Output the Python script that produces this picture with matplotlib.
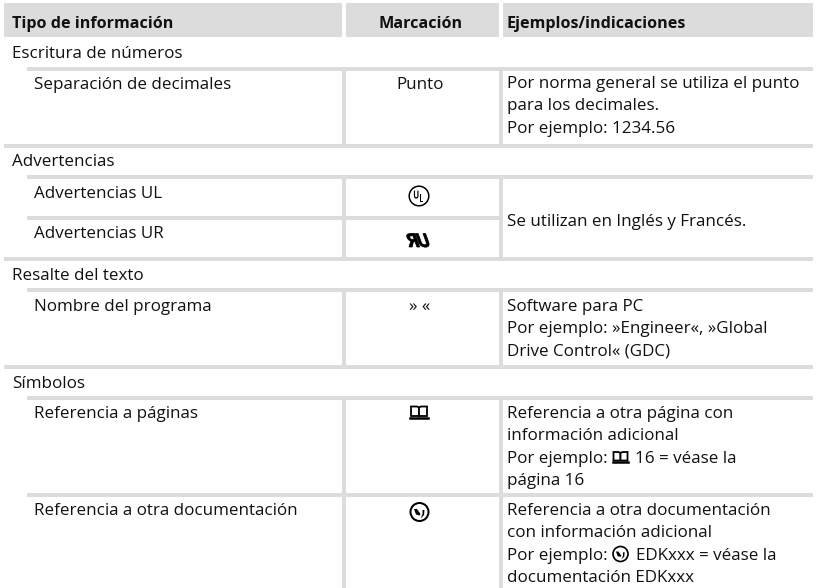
import matplotlib
matplotlib.use("Agg")
import matplotlib.pyplot as plt
from matplotlib.patches import Rectangle, Circle, Polygon, PathPatch
from matplotlib.textpath import TextPath
from matplotlib.font_manager import FontProperties
from matplotlib.transforms import Affine2D

FONT = "Open Sans"
SIZE = 12.25
HEAD = 11.65
GREY = "#dcdcdc"
INK = "#111111"

headers = ["Tipo de información", "Marcación", "Ejemplos/indicaciones"]
sections = ["Escritura de números", "Advertencias", "Resalte del texto", "Símbolos"]
section_base = [58, 166, 280, 388]
rows = ["Separación de decimales", "Advertencias UL", "Advertencias UR",
        "Nombre del programa", "Referencia a páginas", "Referencia a otra documentación"]
row_base = [89, 198, 238, 311, 418, 515]
marks = ["Punto", "", "", "» «", "", ""]
notes = [
    (["Por norma general se utiliza el punto", "para los decimales.", "Por ejemplo: 1234.56"], 88),
    (["Se utilizan en Inglés y Francés."], 226),
    (["Software para PC", "Por ejemplo: »Engineer«, »Global", "Drive Control« (GDC)"], 311),
    (["Referencia a otra página con", "información adicional", "Por ejemplo:", "página 16"], 418),
    (["Referencia a otra documentación", "con información adicional", "Por ejemplo:", "documentación EDKxxx"], 515),
]
inline = [("16 = véase la", 635, 462.6), ("EDKxxx = véase la", 636, 559.6)]

h_rules = [(67, 27, 813), (144, 4, 813), (175, 27, 813), (216, 27, 499), (257, 4, 813),
           (288, 27, 813), (365, 4, 813), (396, 27, 813), (493, 27, 813)]
v_spans = [(67, 144), (175, 257), (288, 365), (396, 588)]
v_cols = [342, 499]

fig = plt.figure(figsize=(8.17, 5.88), dpi=100)
ax = fig.add_axes([0, 0, 1, 1])
ax.set_xlim(0, 817)
ax.set_ylim(588, 0)
ax.axis("off")

def rect(x0, y0, x1, y1, color=GREY):
    ax.add_patch(Rectangle((x0, y0), x1 - x0, y1 - y0, fc=color, ec="none"))

def txt(x, y, s, ha="left", weight="normal", size=SIZE):
    ax.text(x, y, s, ha=ha, va="baseline", family=FONT, fontsize=size, color=INK, fontweight=weight)

for x0, x1 in [(4, 342), (346, 499), (503, 813)]:
    rect(x0, 3, x1, 37)
for y, x0, x1 in h_rules:
    rect(x0, y, x1, y + 4)
for y0, y1 in v_spans:
    for x in v_cols:
        rect(x, y0, x + 4, y1)

txt(12, 28, headers[0], weight="bold", size=HEAD)
txt(421, 28, headers[1], ha="center", weight="bold", size=HEAD)
txt(507, 28, headers[2], weight="bold", size=HEAD)

for s, b in zip(sections, section_base):
    txt(12, b, s)
for s, b in zip(rows, row_base):
    txt(34, b, s)
for s, b in zip(marks, row_base):
    if s:
        txt(420, b, s, ha="center")
for lines, b in notes:
    for i, s in enumerate(lines):
        txt(507, b + i * 22.3, s)
for s, x, y in inline:
    txt(x, y, s)

def letters(s, x, y, size, sx=1.0, weight="bold"):
    fp = FontProperties(family=FONT, weight=weight)
    tp = TextPath((0, 0), s, size=size, prop=fp)
    tr = Affine2D().scale(sx, -1).translate(x, y) + ax.transData
    ax.add_patch(PathPatch(tp, fc="black", ec="none", transform=tr))

def book(cx, cy, w=8, h=5.5):
    for sx in (-1, 1):
        ax.add_patch(Polygon([(cx, cy - h + 1), (cx + sx * 2, cy - h), (cx + sx * w, cy - h),
                              (cx + sx * w, cy + h - 1.5), (cx, cy + h - 1.5)], closed=True,
                             fc="white", ec="black", lw=1.3))
    ax.plot([cx - w - 0.8, cx + w + 0.8], [cy + h, cy + h], color="black", lw=1.8)

def globe(cx, cy, r):
    ax.add_patch(Circle((cx, cy), r, fc="white", ec="black", lw=1.3 * r / 8))
    k = r / 9
    ax.add_patch(Polygon([(cx - 5.5 * k, cy - 3 * k), (cx - 2.5 * k, cy - 3 * k), (cx + 1 * k, cy + 2 * k),
                          (cx, cy + 3.5 * k), (cx - 3.5 * k, cy + 2.5 * k)], fc="black", ec="none"))
    ax.add_patch(Polygon([(cx + 3 * k, cy - 2 * k), (cx + 5 * k, cy - 2 * k), (cx + 4.5 * k, cy + 3 * k),
                          (cx + 1 * k, cy + 6.5 * k), (cx + 3 * k, cy + 2 * k)], fc="black", ec="none"))

ax.add_patch(Circle((419, 196), 9.8, fc="white", ec="black", lw=1.1))
letters("U", 413.2, 198.5, 11, 0.72)
letters("L", 419.2, 202, 11, 0.72)

fp = FontProperties(family=FONT, weight="bold")
for s, x, flip in [("R", 421.5, True), ("U", 419, False)]:
    tp = TextPath((0, 0), s, size=19, prop=fp)
    sx = -1.0 if flip else 0.9
    tr = Affine2D().scale(sx, -1).skew_deg(20, 0).translate(x, 247) + ax.transData
    ax.add_patch(PathPatch(tp, fc="black", ec="black", lw=0.5, transform=tr))

book(419, 412)
globe(419.5, 512, 9)
book(620.5, 457, w=7, h=5)
globe(620.5, 554, 7.5)

fig.savefig("out.png", dpi=100)
